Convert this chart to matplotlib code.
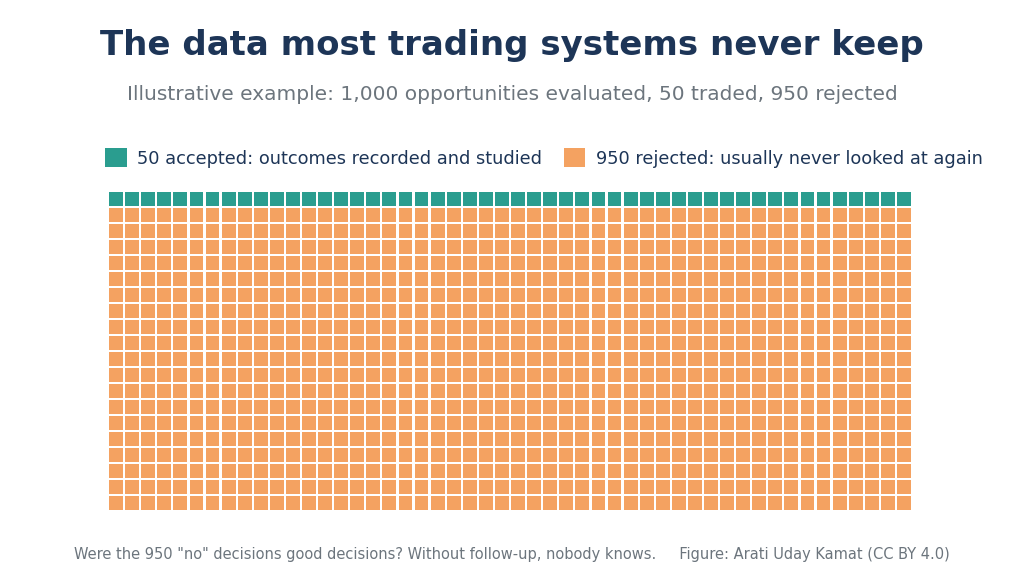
import matplotlib.pyplot as plt
from matplotlib.patches import Rectangle, Patch

# waffle data
accepted = 50
rejected = 950
n_cols = 50
n_rows = 20

teal = '#2a9d8f'
orange = '#f4a261'
navy = '#1d3557'
grey = '#6c757d'

labels = ['50 accepted: outcomes recorded and studied',
          '950 rejected: usually never looked at again']

fig = plt.figure(figsize=(10.24, 5.79), dpi=100)
fig.patch.set_facecolor('white')

ax = fig.add_axes([108 / 1024, 68 / 579, 804 / 1024, 320 / 579])

# fill row by row from the top, accepted first
total = accepted + rejected
for i in range(total):
    row = i // n_cols
    col = i % n_cols
    color = teal if i < accepted else orange
    ax.add_patch(Rectangle((col + 0.07, n_rows - 1 - row + 0.07), 0.86, 0.86,
                           facecolor=color, edgecolor='none'))

ax.set_xlim(0, n_cols)
ax.set_ylim(0, n_rows)
ax.axis('off')

fig.text(0.5, 1 - 45 / 579, 'The data most trading systems never keep',
         ha='center', va='center', fontsize=24.5, fontweight='bold', color=navy)
fig.text(0.5, 1 - 94 / 579,
         'Illustrative example: 1,000 opportunities evaluated, 50 traded, 950 rejected',
         ha='center', va='center', fontsize=14.5, color=grey)

handles = [Patch(facecolor=teal, label=labels[0]),
           Patch(facecolor=orange, label=labels[1])]
leg = fig.legend(handles=handles, loc='center', ncol=2, frameon=False,
                 bbox_to_anchor=(544 / 1024, 1 - 158 / 579),
                 fontsize=12.8, handlelength=1.2, handleheight=1.2,
                 handletextpad=0.6, columnspacing=1.2)
for t in leg.get_texts():
    t.set_color(navy)

fig.text(0.5, 1 - 555 / 579,
         'Were the 950 "no" decisions good decisions? Without follow-up, nobody knows.'
         '     Figure: Arati Uday Kamat (CC BY 4.0)',
         ha='center', va='center', fontsize=10.5, color=grey)

fig.savefig('out.png', dpi=100)
